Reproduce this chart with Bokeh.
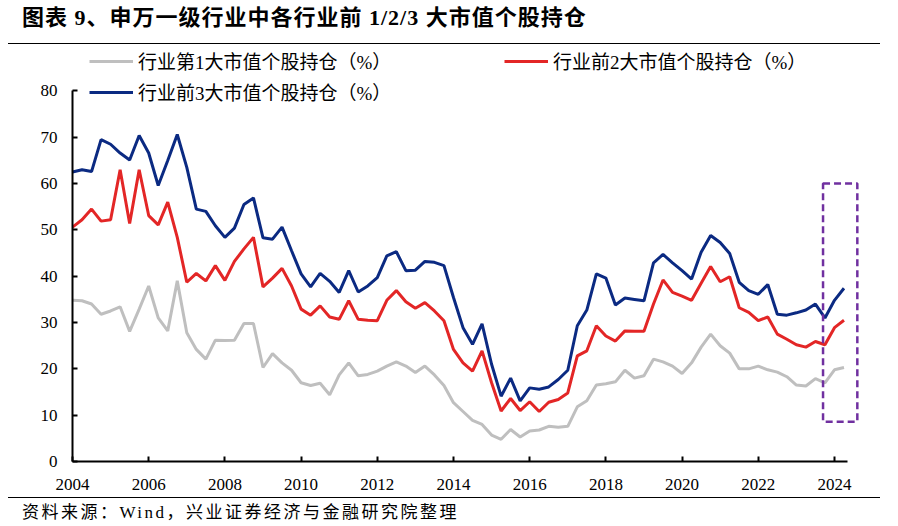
from bokeh.plotting import figure
from bokeh.models import Range1d, FixedTicker, Legend, LegendItem, BoxAnnotation, Div
from bokeh.layouts import column
from bokeh.embed import file_html
from bokeh.resources import INLINE

# ---------------- data (quarterly, 2004Q1 - 2024Q2) ----------------
start_year = 2004
n_quarters = 82
quarters = [f"{start_year + i // 4}Q{i % 4 + 1}" for i in range(n_quarters)]
x_vals = [int(q[:4]) + (int(q[-1]) - 1) / 4 for q in quarters]

top1 = [34.8, 34.7, 34.0, 31.8, 32.5, 33.4, 28.1, 32.9, 37.9, 31.0, 28.2, 39.0, 27.8, 24.2, 22.1, 26.2, 26.1, 26.2, 29.8, 29.8, 20.3,
        23.3, 21.3, 19.7, 17.0, 16.4, 16.9, 14.4, 18.7, 21.3, 18.5, 18.8, 19.5, 20.6, 21.5, 20.6, 19.2, 20.6, 18.7, 16.4, 12.7, 10.8,
        8.9, 8.0, 5.7, 4.8, 6.9, 5.3, 6.6, 6.8, 7.6, 7.4, 7.6, 11.8, 13.1, 16.5, 16.8, 17.2, 19.7, 18.0, 18.5, 22.1,
        21.5, 20.6, 19.0, 21.3, 24.7, 27.5, 25.0, 23.4, 20.0, 20.0, 20.6, 19.8, 19.3, 18.3, 16.5, 16.3, 17.9, 17.0, 19.8, 20.3]
top2 = [50.6, 52.2, 54.5, 51.9, 52.2, 63.0, 51.4, 63.0, 53.1, 51.1, 56.0, 48.4, 38.7, 40.6, 39.0, 42.3, 39.1, 43.2, 45.9, 48.4, 37.7,
        39.6, 41.7, 37.9, 32.9, 31.6, 33.6, 31.2, 30.7, 34.7, 30.7, 30.5, 30.4, 34.8, 36.9, 34.5, 33.1, 34.3, 32.5, 30.4, 24.2, 21.3,
        19.5, 23.9, 17.0, 10.9, 13.6, 11.0, 12.9, 10.8, 12.8, 13.4, 14.8, 22.8, 23.9, 29.3, 27.1, 26.0, 28.2, 28.1, 28.1, 34.0,
        39.2, 36.5, 35.7, 34.8, 38.5, 42.1, 38.8, 39.9, 33.2, 32.2, 30.4, 31.2, 27.5, 26.4, 25.2, 24.7, 25.9, 25.2, 28.9, 30.5]
top3 = [62.5, 63.0, 62.6, 69.5, 68.5, 66.6, 65.1, 70.4, 66.6, 59.6, 65.0, 70.6, 63.5, 54.5, 54.0, 50.9, 48.4, 50.4, 55.5, 56.9, 48.3,
        48.0, 50.6, 45.5, 40.5, 37.7, 40.6, 38.9, 36.5, 41.2, 36.6, 37.9, 39.7, 44.4, 45.3, 41.2, 41.3, 43.2, 43.0, 42.3, 35.4, 28.9,
        25.3, 29.7, 21.0, 14.1, 18.0, 13.1, 15.9, 15.6, 16.1, 17.7, 19.7, 29.3, 32.7, 40.5, 39.6, 33.8, 35.3, 35.0, 34.7, 42.9,
        44.7, 42.9, 41.2, 39.4, 45.2, 48.8, 47.3, 44.9, 38.7, 36.9, 36.1, 38.2, 31.8, 31.6, 32.1, 32.7, 34.0, 31.0, 34.8, 37.4]

series_names = ["行业第1大市值个股持仓（%）", "行业前2大市值个股持仓（%）", "行业前3大市值个股持仓（%）"]
x_ticks = list(range(2004, 2025, 2))
y_ticks = list(range(0, 81, 10))
x_axis_end = 2024.34
y_axis_end = 80

# highlighted region (dashed box)
hl_x = [2023.70, 2024.60]
hl_y = [8.6, 60.0]

title_text = "图表 9、申万一级行业中各行业前 1/2/3 大市值个股持仓"
source_text = "资料来源：Wind，兴业证券经济与金融研究院整理"

# ---------------- layout constants ----------------
W = 890
TITLE_H = 45
FIG_H = 451
SRC_H = 22

title_div = Div(
    text=(f'<div style="position:relative;width:{W}px;height:{TITLE_H}px;">'
          f'<div style="position:absolute;left:22px;top:4px;white-space:nowrap;'
          f"font-family:'Liberation Serif','Noto Sans CJK SC';font-weight:bold;font-size:22px;"
          f'line-height:28px;letter-spacing:1px;color:#000;">{title_text}</div>'
          f'<div style="position:absolute;left:8px;top:43px;width:872px;height:0;'
          f'border-top:1.5px solid #000;"></div></div>'),
    width=W, height=TITLE_H, margin=0)

src_div = Div(
    text=(f'<div style="position:relative;width:{W}px;height:{SRC_H}px;overflow:visible;">'
          f'<div style="position:absolute;left:8px;top:1px;width:872px;height:0;'
          f'border-top:1.5px solid #000;"></div>'
          f'<div style="position:absolute;left:22px;top:6px;white-space:nowrap;'
          f"font-family:'Liberation Serif','Noto Sans CJK SC';font-size:17px;"
          f'line-height:22px;letter-spacing:2.5px;color:#000;">{source_text}</div></div>'),
    width=W, height=SRC_H, margin=0)

# ---------------- figure ----------------
p = figure(width=W, height=FIG_H, output_backend="svg", toolbar_location=None,
           x_range=Range1d(2004, 2025.077), y_range=Range1d(0, 89.82),
           min_border_left=72, min_border_right=15, min_border_top=0, min_border_bottom=35)
p.outline_line_color = None
p.grid.visible = False
p.background_fill_color = "white"
p.border_fill_color = "white"
p.margin = 0

for ax in (p.xaxis[0], p.yaxis[0]):
    ax.axis_line_color = "black"
    ax.axis_line_width = 2
    ax.major_tick_line_color = "black"
    ax.major_tick_line_width = 2
    ax.major_tick_in = 5
    ax.major_tick_out = 0
    ax.minor_tick_line_color = None
    ax.major_label_text_font = "Liberation Serif"
    ax.major_label_text_font_size = "17px"
    ax.major_label_text_color = "black"
p.xaxis.ticker = FixedTicker(ticks=x_ticks)
p.yaxis.ticker = FixedTicker(ticks=y_ticks)
p.xaxis.bounds = (x_ticks[0], x_axis_end)
p.yaxis.bounds = (0, y_axis_end)
p.xaxis.major_label_standoff = 17
p.yaxis.major_label_standoff = 15

colors = ["#BFBFBF", "#E32626", "#0B2A82"]
r1 = p.line(x_vals, top1, line_color=colors[0], line_width=3)
r2 = p.line(x_vals, top2, line_color=colors[1], line_width=3)
r3 = p.line(x_vals, top3, line_color=colors[2], line_width=3)

box = BoxAnnotation(left=hl_x[0], right=hl_x[1], bottom=hl_y[0], top=hl_y[1],
                    fill_alpha=0, line_color="#7030A0", line_alpha=1, line_width=2.5,
                    line_dash="7 4")
p.add_layout(box)

legend = Legend(items=[LegendItem(label=series_names[0], renderers=[r1]),
                       LegendItem(label=series_names[2], renderers=[r3]),
                       LegendItem(label=series_names[1], renderers=[r2])],
                location=(17, 356), orientation="vertical", nrows=2,
                glyph_width=44, glyph_height=22, label_height=22, label_width=362,
                label_standoff=5, spacing=4, padding=0, margin=0,
                border_line_color=None, background_fill_alpha=0,
                label_text_font="Liberation Serif, Noto Sans CJK SC",
                label_text_font_size="19px", label_text_color="black")
p.add_layout(legend, "center")

root = column(title_div, p, src_div, spacing=0)
open("out.html", "w").write(file_html(root, INLINE))
